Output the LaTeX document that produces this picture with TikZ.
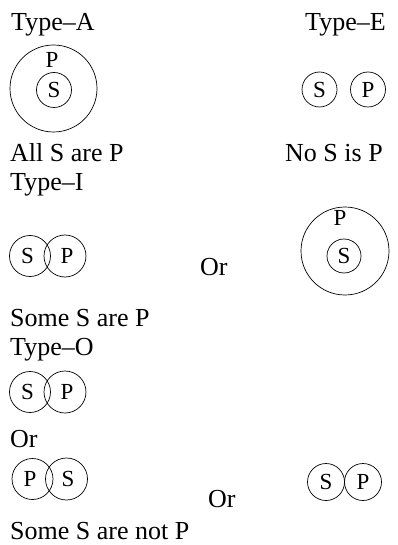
\documentclass[tikz,border=0pt]{standalone}
\usepackage{fontspec}
\setmainfont{Liberation Serif}
\begin{document}
\begin{tikzpicture}[x=1pt,y=-1pt,
  lbl/.style={font=\fontsize{26}{28}\selectfont, inner sep=0pt, anchor=base west},
  clbl/.style={font=\fontsize{23}{25}\selectfont, inner sep=0pt},
  ring/.style={draw, circle, line width=0.7pt, inner sep=0pt},
]
\useasboundingbox (0,0) rectangle (398,545);
% Type A
\node[lbl] (tA) at (11,31) {Type--A};
\node[ring, minimum size=87pt] (A1) at (53.5,88.5) {};
\node[ring, minimum size=35pt, clbl] (A2) at (54,90) {S};
\node[clbl] (A3) at (52,60) {P};
\node[lbl] (tAs) at (10,162) {All S are P};
% Type E
\node[lbl] (tE) at (305,31) {Type--E};
\node[ring, minimum size=35pt, clbl] (E1) at (319.5,89.5) {S};
\node[ring, minimum size=35pt, clbl] (E2) at (368,89.5) {P};
\node[lbl] (tEs) at (285,162) {No S is P};
% Type I
\node[lbl] (tI) at (10,191) {Type--I};
\node[ring, minimum size=41pt] (I1) at (30,256) {};
\node[ring, minimum size=42pt] (I2) at (65,256) {};
\node[clbl] (I1t) at (27.5,256) {S};
\node[clbl] (I2t) at (67,256) {P};
\node[lbl] (Ior) at (200,275) {Or};
\node[ring, minimum size=88pt] (I3) at (345,251) {};
\node[ring, minimum size=34pt, clbl] (I4) at (344,256) {S};
\node[clbl] (I5) at (340,218) {P};
\node[lbl] (tIs) at (10,326) {Some S are P};
% Type O
\node[lbl] (tO) at (10,355) {Type--O};
\node[ring, minimum size=41pt] (O1) at (30,392) {};
\node[ring, minimum size=42pt] (O2) at (65,392) {};
\node[clbl] (O1t) at (27.5,392) {S};
\node[clbl] (O2t) at (67,392) {P};
\node[lbl] (Oor1) at (10,447) {Or};
\node[ring, minimum size=41pt] (O3) at (32.5,479) {};
\node[ring, minimum size=42pt] (O4) at (66.5,479) {};
\node[clbl] (O3t) at (30,479) {P};
\node[clbl] (O4t) at (68,479) {S};
\node[lbl] (Oor2) at (208,507) {Or};
\node[ring, minimum size=37pt, clbl] (O5) at (326,482) {S};
\node[ring, minimum size=37pt, clbl] (O6) at (363,482) {P};
\node[lbl] (tOs) at (10,539) {Some S are not P};
\end{tikzpicture}
\end{document}
